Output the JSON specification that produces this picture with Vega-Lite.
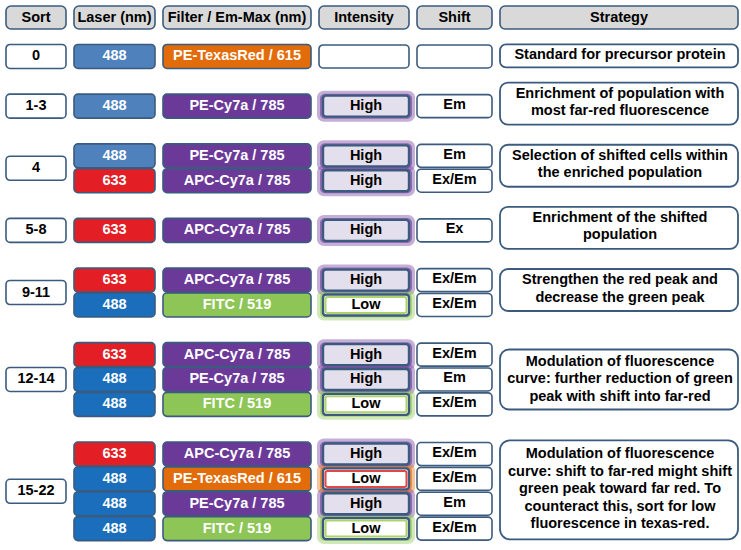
{
  "$schema": "https://vega.github.io/schema/vega-lite/v6.json",
  "padding": {"left": 5, "top": 5, "right": 2, "bottom": 2},
  "background": "white",
  "config": {"view": {"stroke": null}, "text": {"font": "Liberation Sans", "fontWeight": "bold", "fontSize": 14.5}},
  "datasets": {
    "headers": [
      {"col": "Sort"}, {"col": "Laser (nm)"}, {"col": "Filter / Em-Max (nm)"}, {"col": "Intensity"}, {"col": "Shift"}, {"col": "Strategy"}
    ],
    "cells": [
      {"line": 0, "sort": "0", "laser": 488, "filter": "PE-TexasRed / 615", "intensity": "", "shift": ""},
      {"line": 2, "sort": "1-3", "laser": 488, "filter": "PE-Cy7a / 785", "intensity": "High", "shift": "Em"},
      {"line": 4, "sort": "4", "laser": 488, "filter": "PE-Cy7a / 785", "intensity": "High", "shift": "Em"},
      {"line": 5, "sort": "4", "laser": 633, "filter": "APC-Cy7a / 785", "intensity": "High", "shift": "Ex/Em"},
      {"line": 7, "sort": "5-8", "laser": 633, "filter": "APC-Cy7a / 785", "intensity": "High", "shift": "Ex"},
      {"line": 9, "sort": "9-11", "laser": 633, "filter": "APC-Cy7a / 785", "intensity": "High", "shift": "Ex/Em"},
      {"line": 10, "sort": "9-11", "laser": 488, "filter": "FITC / 519", "intensity": "Low", "shift": "Ex/Em"},
      {"line": 12, "sort": "12-14", "laser": 633, "filter": "APC-Cy7a / 785", "intensity": "High", "shift": "Ex/Em"},
      {"line": 13, "sort": "12-14", "laser": 488, "filter": "PE-Cy7a / 785", "intensity": "High", "shift": "Em"},
      {"line": 14, "sort": "12-14", "laser": 488, "filter": "FITC / 519", "intensity": "Low", "shift": "Ex/Em"},
      {"line": 16, "sort": "15-22", "laser": 633, "filter": "APC-Cy7a / 785", "intensity": "High", "shift": "Ex/Em"},
      {"line": 17, "sort": "15-22", "laser": 488, "filter": "PE-TexasRed / 615", "intensity": "Low", "shift": "Ex/Em"},
      {"line": 18, "sort": "15-22", "laser": 488, "filter": "PE-Cy7a / 785", "intensity": "High", "shift": "Em"},
      {"line": 19, "sort": "15-22", "laser": 488, "filter": "FITC / 519", "intensity": "Low", "shift": "Ex/Em"}
    ],
    "sorts": [
      {"sort": "0", "strategy": ["Standard for precursor protein"]},
      {"sort": "1-3", "strategy": ["Enrichment of population with", "most far-red fluorescence"]},
      {"sort": "4", "strategy": ["Selection of shifted cells within", "the enriched population"]},
      {"sort": "5-8", "strategy": ["Enrichment of the shifted", "population"]},
      {"sort": "9-11", "strategy": ["Strengthen the red peak and", "decrease the green peak"]},
      {"sort": "12-14", "strategy": ["Modulation of fluorescence", "curve: further reduction of green", "peak with shift into far-red"]},
      {"sort": "15-22", "strategy": ["Modulation of fluorescence", "curve: shift to far-red might shift", "green peak toward far red. To", "counteract this, sort for low", "fluorescence in texas-red."]}
    ]
  },
  "spacing": 13,
  "vconcat": [
    {
      "spacing": 8,
      "bounds": "flush",
      "hconcat": [
        {"width": 60, "height": 23, "data": {"name": "headers"}, "transform": [{"filter": "datum.col == 'Sort'"}],
         "layer": [
           {"mark": {"type": "rect", "fill": "#d9d9d9", "stroke": "#3b5b7e", "strokeWidth": 1.6, "cornerRadius": 5}, "encoding": {}},
           {"mark": {"type": "text", "color": "black"}, "encoding": {"text": {"field": "col"}}}
         ]},
        {"width": 81, "height": 23, "data": {"name": "headers"}, "transform": [{"filter": "datum.col == 'Laser (nm)'"}],
         "layer": [
           {"mark": {"type": "rect", "fill": "#d9d9d9", "stroke": "#3b5b7e", "strokeWidth": 1.6, "cornerRadius": 5}, "encoding": {}},
           {"mark": {"type": "text", "color": "black"}, "encoding": {"text": {"field": "col"}}}
         ]},
        {"width": 148, "height": 23, "data": {"name": "headers"}, "transform": [{"filter": "datum.col == 'Filter / Em-Max (nm)'"}],
         "layer": [
           {"mark": {"type": "rect", "fill": "#d9d9d9", "stroke": "#3b5b7e", "strokeWidth": 1.6, "cornerRadius": 5}, "encoding": {}},
           {"mark": {"type": "text", "color": "black"}, "encoding": {"text": {"field": "col"}}}
         ]},
        {"width": 90, "height": 23, "data": {"name": "headers"}, "transform": [{"filter": "datum.col == 'Intensity'"}],
         "layer": [
           {"mark": {"type": "rect", "fill": "#d9d9d9", "stroke": "#3b5b7e", "strokeWidth": 1.6, "cornerRadius": 5}, "encoding": {}},
           {"mark": {"type": "text", "color": "black"}, "encoding": {"text": {"field": "col"}}}
         ]},
        {"width": 75, "height": 23, "data": {"name": "headers"}, "transform": [{"filter": "datum.col == 'Shift'"}],
         "layer": [
           {"mark": {"type": "rect", "fill": "#d9d9d9", "stroke": "#3b5b7e", "strokeWidth": 1.6, "cornerRadius": 5}, "encoding": {}},
           {"mark": {"type": "text", "color": "black"}, "encoding": {"text": {"field": "col"}}}
         ]},
        {"width": 238, "height": 23, "data": {"name": "headers"}, "transform": [{"filter": "datum.col == 'Strategy'"}],
         "layer": [
           {"mark": {"type": "rect", "fill": "#d9d9d9", "stroke": "#3b5b7e", "strokeWidth": 1.6, "cornerRadius": 5}, "encoding": {}},
           {"mark": {"type": "text", "color": "black"}, "encoding": {"text": {"field": "col"}}}
         ]}
      ]
    },
    {
      "spacing": 8,
      "bounds": "flush",
      "hconcat": [
        {"width": 60, "height": 497, "data": {"name": "cells"},
         "transform": [{"aggregate": [{"op": "mean", "field": "line", "as": "mid"}], "groupby": ["sort"]}],
         "encoding": {"y": {"field": "mid", "type": "quantitative", "scale": {"domain": [-0.5, 19.5], "reverse": true, "nice": false, "zero": false}, "axis": null}},
         "layer": [
           {"mark": {"type": "rect", "fill": "white", "stroke": "#3b5b7e", "strokeWidth": 1.6, "cornerRadius": 4, "yOffset": -12, "y2Offset": 12}, "encoding": {"y2": {"field": "mid"}}},
           {"mark": {"type": "text", "color": "black"}, "encoding": {"text": {"field": "sort"}}}
         ]},
        {"width": 81, "height": 497, "data": {"name": "cells"},
         "encoding": {"y": {"field": "line", "type": "quantitative", "scale": {"domain": [-0.5, 19.5], "reverse": true, "nice": false, "zero": false}, "axis": null}},
         "layer": [
           {"mark": {"type": "rect", "stroke": "#3b5b7e", "strokeWidth": 1.6, "cornerRadius": 4, "yOffset": -12, "y2Offset": 12},
            "encoding": {"y2": {"field": "line"},
              "fill": {"condition": [{"test": "datum.laser == 633", "value": "#e31e24"}, {"test": "datum.line < 6", "value": "#4f81bd"}], "value": "#1b6ebb"}}},
           {"mark": {"type": "text", "color": "white"}, "encoding": {"text": {"field": "laser"}}}
         ]},
        {"width": 148, "height": 497, "data": {"name": "cells"},
         "encoding": {"y": {"field": "line", "type": "quantitative", "scale": {"domain": [-0.5, 19.5], "reverse": true, "nice": false, "zero": false}, "axis": null}},
         "layer": [
           {"mark": {"type": "rect", "stroke": "#3b5b7e", "strokeWidth": 1.6, "cornerRadius": 4, "yOffset": -12, "y2Offset": 12},
            "encoding": {"y2": {"field": "line"},
              "fill": {"field": "filter", "type": "nominal", "legend": null,
                "scale": {"domain": ["PE-TexasRed / 615", "PE-Cy7a / 785", "APC-Cy7a / 785", "FITC / 519"], "range": ["#e36c0a", "#6b3a99", "#6b3a99", "#8dc556"]}}}},
           {"mark": {"type": "text", "color": "white"}, "encoding": {"text": {"field": "filter"}}}
         ]},
        {"width": 90, "height": 497, "data": {"name": "cells"},
         "encoding": {"y": {"field": "line", "type": "quantitative", "scale": {"domain": [-0.5, 19.5], "reverse": true, "nice": false, "zero": false}, "axis": null}},
         "layer": [
           {"transform": [{"filter": "datum.intensity == ''"}],
            "mark": {"type": "rect", "fill": "white", "stroke": "#3b5b7e", "strokeWidth": 1.6, "cornerRadius": 4, "yOffset": -11.5, "y2Offset": 11.5},
            "encoding": {"y2": {"field": "line"},
              "x": {"datum": 0, "type": "quantitative", "scale": {"domain": [0, 1], "nice": false, "zero": false}, "axis": null}, "x2": {"datum": 1}}},
           {"transform": [{"filter": "datum.intensity != ''"}],
            "mark": {"type": "rect", "opacity": 0.4, "cornerRadius": 7, "yOffset": -15.5, "y2Offset": 15.5, "xOffset": -2, "x2Offset": 6},
            "encoding": {"y2": {"field": "line"},
              "x": {"datum": 0, "type": "quantitative"}, "x2": {"datum": 1},
              "fill": {"field": "filter", "type": "nominal", "legend": null,
                "scale": {"domain": ["PE-TexasRed / 615", "PE-Cy7a / 785", "APC-Cy7a / 785", "FITC / 519"], "range": ["#e04848", "#9273c0", "#9273c0", "#aed36c"]}}}},
           {"transform": [{"filter": "datum.intensity != ''"}],
            "mark": {"type": "rect", "opacity": 0.6, "cornerRadius": 5, "yOffset": -12.5, "y2Offset": 12.5, "xOffset": 1, "x2Offset": 3},
            "encoding": {"y2": {"field": "line"},
              "x": {"datum": 0, "type": "quantitative"}, "x2": {"datum": 1},
              "fill": {"field": "filter", "type": "nominal", "legend": null}}},
           {"transform": [{"filter": "datum.intensity != ''"}],
            "mark": {"type": "rect", "stroke": "#3b5b7e", "strokeWidth": 2.4, "cornerRadius": 3, "yOffset": -10.5, "y2Offset": 10.5, "xOffset": 4, "x2Offset": 0},
            "encoding": {"y2": {"field": "line"},
              "x": {"datum": 0, "type": "quantitative"}, "x2": {"datum": 1},
              "fill": {"condition": {"test": "datum.intensity == 'High'", "value": "#e4dfed"}, "value": "white"}}},
           {"transform": [{"filter": "datum.intensity == 'Low'"}],
            "mark": {"type": "rect", "fillOpacity": 0, "strokeWidth": 2, "cornerRadius": 2, "yOffset": -8, "y2Offset": 8, "xOffset": 6.5, "x2Offset": -2.5},
            "encoding": {"y2": {"field": "line"},
              "x": {"datum": 0, "type": "quantitative"}, "x2": {"datum": 1},
              "stroke": {"field": "filter", "type": "nominal", "legend": null,
                "scale": {"domain": ["PE-TexasRed / 615", "PE-Cy7a / 785", "APC-Cy7a / 785", "FITC / 519"], "range": ["#e04848", "#9273c0", "#9273c0", "#aed36c"]}}}},
           {"mark": {"type": "text", "color": "black", "dx": 2}, "encoding": {"text": {"field": "intensity"}, "x": {"datum": 0.5, "type": "quantitative"}}}
         ]},
        {"width": 75, "height": 497, "data": {"name": "cells"},
         "encoding": {"y": {"field": "line", "type": "quantitative", "scale": {"domain": [-0.5, 19.5], "reverse": true, "nice": false, "zero": false}, "axis": null}},
         "layer": [
           {"mark": {"type": "rect", "fill": "white", "stroke": "#3b5b7e", "strokeWidth": 1.6, "cornerRadius": 4, "yOffset": -11.5, "y2Offset": 11.5},
            "encoding": {"y2": {"field": "line"}}},
           {"mark": {"type": "text", "color": "black", "dy": -1}, "encoding": {"text": {"field": "shift"}}}
         ]},
        {"width": 238, "height": 497, "data": {"name": "cells"},
         "transform": [
           {"aggregate": [{"op": "mean", "field": "line", "as": "mid"}], "groupby": ["sort"]},
           {"lookup": "sort", "from": {"data": {"name": "sorts"}, "key": "sort", "fields": ["strategy"]}}
         ],
         "encoding": {"y": {"field": "mid", "type": "quantitative", "scale": {"domain": [-0.5, 19.5], "reverse": true, "nice": false, "zero": false}, "axis": null}},
         "layer": [
           {"transform": [{"filter": "length(datum.strategy) == 1"}],
            "mark": {"type": "rect", "fill": "white", "stroke": "#3b5b7e", "strokeWidth": 1.8, "cornerRadius": 6, "yOffset": -12, "y2Offset": 11, "x2Offset": 2},
            "encoding": {"y2": {"field": "mid"}}},
           {"transform": [{"filter": "length(datum.strategy) == 2"}],
            "mark": {"type": "rect", "fill": "white", "stroke": "#3b5b7e", "strokeWidth": 1.8, "cornerRadius": 8, "yOffset": -23.5, "y2Offset": 18.5, "x2Offset": 2},
            "encoding": {"y2": {"field": "mid"}}},
           {"transform": [{"filter": "length(datum.strategy) == 3"}],
            "mark": {"type": "rect", "fill": "white", "stroke": "#3b5b7e", "strokeWidth": 1.8, "cornerRadius": 9, "yOffset": -30, "y2Offset": 30, "x2Offset": 2},
            "encoding": {"y2": {"field": "mid"}}},
           {"transform": [{"filter": "length(datum.strategy) == 5"}],
            "mark": {"type": "rect", "fill": "white", "stroke": "#3b5b7e", "strokeWidth": 1.8, "cornerRadius": 10, "yOffset": -51, "y2Offset": 48, "x2Offset": 2},
            "encoding": {"y2": {"field": "mid"}}},
           {"transform": [{"filter": "length(datum.strategy) == 1"}],
            "mark": {"type": "text", "color": "black", "lineHeight": 17.5, "dx": 1, "dy": -1}, "encoding": {"text": {"field": "strategy"}}},
           {"transform": [{"filter": "length(datum.strategy) == 2"}],
            "mark": {"type": "text", "color": "black", "lineHeight": 17.5, "dx": 1, "dy": -12.5}, "encoding": {"text": {"field": "strategy"}}},
           {"transform": [{"filter": "length(datum.strategy) == 3"}],
            "mark": {"type": "text", "color": "black", "lineHeight": 17.5, "dx": 1, "dy": -17.5}, "encoding": {"text": {"field": "strategy"}}},
           {"transform": [{"filter": "length(datum.strategy) == 5"}],
            "mark": {"type": "text", "color": "black", "lineHeight": 17.5, "dx": 1, "dy": -37}, "encoding": {"text": {"field": "strategy"}}}
         ]}
      ]
    }
  ]
}
